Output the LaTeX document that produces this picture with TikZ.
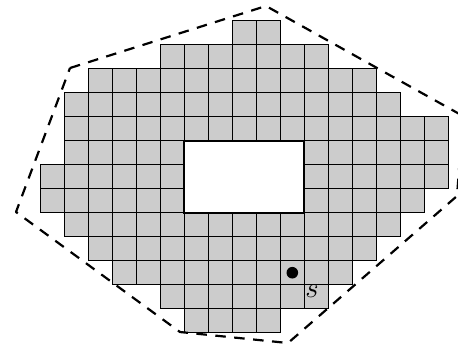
\documentclass[tikz,border=0pt]{standalone}
\begin{document}
\begin{tikzpicture}[x=0.5pt,y=-0.5pt,
  cell/.style={fill=gray!40,draw=black,line width=0.5pt},
  holebox/.style={fill=white,draw=black,line width=1.1pt},
  hull/.style={draw=black,line width=1.1pt,dash pattern=on 5.25pt off 4.25pt,line join=round},
  lbl/.style={font=\Large,inner sep=0pt}]
\useasboundingbox (0,0) rectangle (458,345);
\def\ox{40.3}
\def\oy{20.7}
\foreach \r/\a/\b in {0/8/9,1/5/11,2/2/13,3/1/14,4/1/16,5/1/16,6/0/16,7/0/15,8/1/14,9/2/13,10/3/12,11/5/11,12/6/9}{
  \foreach \c in {\a,...,\b}{
    \path[cell] ({\ox+24*\c},{\oy+24*\r}) rectangle +(24,24);
  }
}
\path[holebox] ({\ox+24*6},{\oy+24*5}) rectangle ({\ox+24*11},{\oy+24*8});
\draw[hull] (70,68) -- (266,6) -- (463,116) -- (457,196) -- (288,343) -- (180,332) -- (16,212) -- cycle;
\coordinate (p) at ({\ox+24*10.5},{\oy+24*10.5});
\fill (p) circle (2.9pt);
\node[lbl] (s) at (312,291) {$s$};
\end{tikzpicture}
\end{document}
